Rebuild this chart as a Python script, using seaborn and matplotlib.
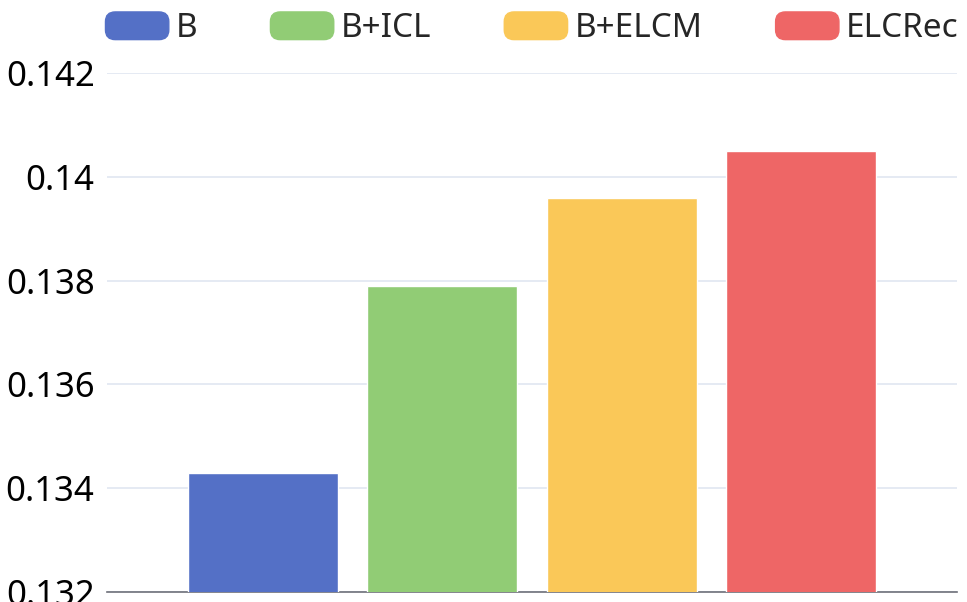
import numpy as np
import pandas as pd
import matplotlib.pyplot as plt
import seaborn as sns
from matplotlib.patches import FancyBboxPatch
from matplotlib.legend_handler import HandlerPatch

# data
methods = ['B', 'B+ICL', 'B+ELCM', 'ELCRec']
scores = [0.1343, 0.1379, 0.1396, 0.1405]
colors = ['#5470c6', '#91cc75', '#fac858', '#ee6666']
yticks = [0.132, 0.134, 0.136, 0.138, 0.14, 0.142]

sns.set_style("white")
plt.rcParams['font.family'] = ['Noto Sans', 'DejaVu Sans']

df = pd.DataFrame({'group': [''] * len(methods), 'Method': methods, 'Score': scores})

fig = plt.figure(figsize=(9.67, 6.02), dpi=100)
ax = fig.add_axes([0.1107, 0.0166, 0.879, 0.862])

sns.barplot(data=df, x='group', y='Score', hue='Method', hue_order=methods,
            palette=colors, width=0.845, gap=0.165, saturation=1,
            legend=False, ax=ax, zorder=3)

ax.set_ylim(0.132, 0.142)
ax.set_xlim(-0.5, 0.5)
ax.set_yticks(yticks)
ax.set_yticklabels([f'{v:g}' for v in yticks], fontsize=25)
ax.set_xticks([-0.5, 0.5])
ax.set_xticklabels([])
ax.set_xlabel('')
ax.set_ylabel('')
ax.grid(axis='y', color='#E0E6F1', linewidth=1.2, zorder=0)
for side in ['top', 'right', 'left']:
    ax.spines[side].set_visible(False)
ax.spines['bottom'].set_color('#6E7079')
ax.spines['bottom'].set_linewidth(1.2)
ax.tick_params(axis='y', length=0, pad=9, colors='black')
ax.tick_params(axis='x', length=5, color='#6E7079', width=1.2, direction='out')
ax.set_axisbelow(True)


def rounded(legend, orig_handle, xdescent, ydescent, width, height, fontsize):
    return FancyBboxPatch((-xdescent, -ydescent), width, height,
                          boxstyle='round,pad=0,rounding_size=7',
                          mutation_aspect=1)


handles = [plt.Rectangle((0, 0), 1, 1, color=c) for c in colors]
fig.legend(handles, methods, loc='upper center', bbox_to_anchor=(0.55, 1.03),
           ncol=4, frameon=False, fontsize=24, handlelength=1.9, handleheight=0.9,
           handletextpad=0.2, columnspacing=2.2,
           handler_map={plt.Rectangle: HandlerPatch(patch_func=rounded)})

fig.savefig('out.png', dpi=100)
